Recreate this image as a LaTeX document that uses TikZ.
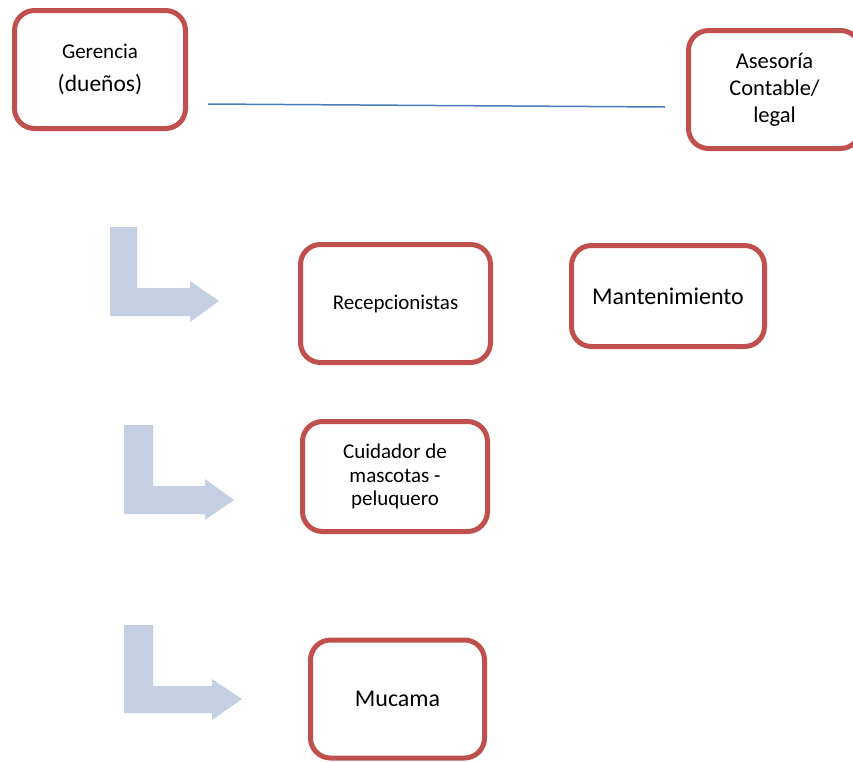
\documentclass[tikz,border=0pt]{standalone}
\usepackage{fontspec}
\setmainfont{Carlito}
\definecolor{boxred}{HTML}{C0504D}
\definecolor{arrowfill}{HTML}{C5CFE3}
\definecolor{lineblue}{HTML}{4A7EBB}
\begin{document}
\begin{tikzpicture}[x=1pt,y=-1pt,
        puesto/.style={draw=boxred,line width=5pt,rounded corners=20pt,
            fill=white,align=center,inner sep=0pt},
        flecha/.style={fill=arrowfill}]
    \useasboundingbox (0,0) rectangle (853,761);
    % cajas
    \node[puesto,minimum width=171pt,minimum height=118pt] (ger) at (100,69.5)
        {\fontsize{21}{24}\selectfont Gerencia\\[15pt]\fontsize{23.5}{26}\selectfont(dueños)};
    \node[puesto,minimum width=172pt,minimum height=118pt,
        font=\fontsize{22.5}{27}\selectfont] (ase) at (774.5,89.5)
        {Asesoría\\Contable/\\legal};
    \node[puesto,minimum width=190pt,minimum height=118pt,
        font=\fontsize{21}{24}\selectfont] (rec) at (395.5,303.5) {Recepcionistas};
    \node[puesto,minimum width=193pt,minimum height=101pt,
        font=\fontsize{24}{28}\selectfont] (man) at (668,296) {Mantenimiento};
    \node[puesto,minimum width=185pt,minimum height=110pt,
        font=\fontsize{21}{23.5}\selectfont] (cui) at (395,476.5)
        {Cuidador de\\mascotas -\\peluquero};
    \node[puesto,minimum width=174pt,minimum height=118pt,
        font=\fontsize{24}{28}\selectfont] (muc) at (397.5,699) {Mucama};
    % linea
    \coordinate (lineA) at (208,104);
    \coordinate (lineB) at (665,107);
    \draw[lineblue,line width=1.5pt]
        (lineA) -- (lineB);
    % flechas
    \fill[flecha]
        (110,227) -- (137,227) -- (137,288) -- (190,288) -- (190,281)
        -- (219,301) -- (190,322) -- (190,316) -- (110,316) -- cycle;
    \fill[flecha]
        (124,425) -- (153,425) -- (153,486) -- (205,486) -- (205,479)
        -- (234,500) -- (205,520) -- (205,514) -- (124,514) -- cycle;
    \fill[flecha]
        (124,625) -- (153,625) -- (153,686) -- (212,686) -- (212,679)
        -- (242,699) -- (212,720) -- (212,713) -- (124,713) -- cycle;
\end{tikzpicture}
\end{document}
